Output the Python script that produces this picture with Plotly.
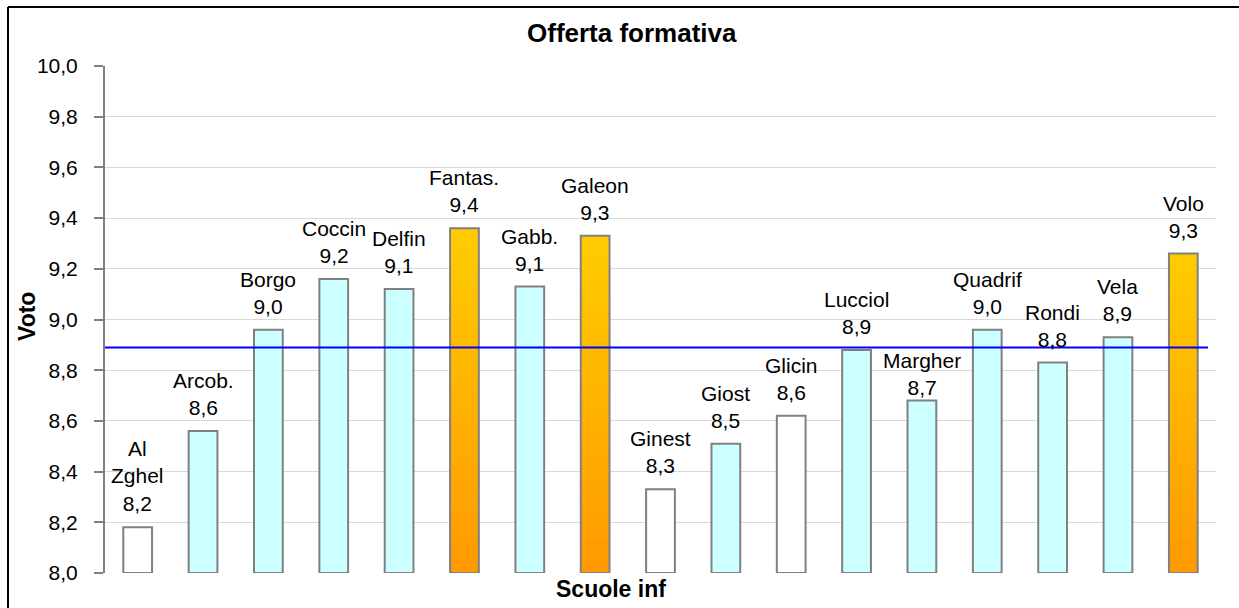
import plotly.graph_objects as go

# ---------------- data ----------------
schools = ["Al Zghel", "Arcob.", "Borgo", "Coccin", "Delfin", "Fantas.", "Gabb.",
           "Galeon", "Ginest", "Giost", "Glicin", "Lucciol", "Margher", "Quadrif",
           "Rondi", "Vela", "Volo"]
scores = [8.18, 8.56, 8.96, 9.16, 9.12, 9.36, 9.13, 9.33, 8.33, 8.51, 8.62,
          8.88, 8.68, 8.96, 8.83, 8.93, 9.26]
groups = ["low", "mid", "mid", "mid", "mid", "top", "mid", "top", "low", "mid",
          "low", "mid", "mid", "mid", "mid", "mid", "top"]
avg_score = 8.89
y_tickvals = [8.0, 8.2, 8.4, 8.6, 8.8, 9.0, 9.2, 9.4, 9.6, 9.8, 10.0]
chart_title = "Offerta formativa"
x_title = "Scuole inf"
y_title = "Voto"

# ---------------- style ----------------
FONT = "Liberation Sans, Arial, sans-serif"
W, H = 1239, 608
L, R, T, B = 105, 23, 66, 35
PW, PH = W - L - R, H - T - B
Y0, Y1 = 8.0, 10.0
fill_map = {"low": "#FFFFFF", "mid": "#CCFFFF", "top": "rgba(0,0,0,0)"}
outline = "#808080"
grad_bottom = (0xFF, 0x99, 0x00)
grad_top = (0xFF, 0xCC, 0x00)
label_nudge = {"Margher": -10}


def px_x(px):
    return (px - L) / PW


def px_y(py):
    return (H - B - py) / PH


fig = go.Figure()

# gradient fill for the highlighted bars (stacked overlapping segments)
top_x = [s for s, g in zip(schools, groups) if g == "top"]
top_v = [v for v, g in zip(scores, groups) if g == "top"]
N = 40
for k in range(N):
    f = (k + 0.5) / N
    c = tuple(round(a + (b - a) * f) for a, b in zip(grad_bottom, grad_top))
    fig.add_trace(go.Bar(
        x=top_x,
        base=[Y0 + (v - Y0) * k / N for v in top_v],
        y=[(v - Y0) * (1 - k / N) for v in top_v],
        marker=dict(color="rgb(%d,%d,%d)" % c, line=dict(width=0)),
        hoverinfo="skip", showlegend=False,
    ))

# main bars with outlines
fig.add_trace(go.Bar(
    x=schools,
    base=[Y0] * len(scores),
    y=[v - Y0 for v in scores],
    marker=dict(color=[fill_map[g] for g in groups],
                line=dict(color=outline, width=2)),
    hoverinfo="skip", showlegend=False,
))

# data labels
for s, v in zip(schools, scores):
    txt = s.replace(" ", "<br>") + "<br>" + ("%.1f" % v).replace(".", ",")
    fig.add_annotation(x=s, y=v, xref="x", yref="y", text=txt, showarrow=False,
                       yanchor="bottom", xanchor="center",
                       yshift=10 + label_nudge.get(s, 0),
                       font=dict(family=FONT, size=21, color="#000000"))

# average line
fig.add_shape(type="line", xref="paper", yref="y", x0=0, x1=px_x(1208),
              y0=avg_score, y1=avg_score, line=dict(color="#0000FF", width=2))

# outer chart border (top and left)
fig.add_shape(type="line", xref="paper", yref="paper", x0=px_x(8), x1=px_x(1245),
              y0=px_y(7), y1=px_y(7), line=dict(color="#000000", width=2))
fig.add_shape(type="line", xref="paper", yref="paper", x0=px_x(8), x1=px_x(8),
              y0=px_y(7), y1=px_y(615), line=dict(color="#000000", width=2))

# titles
fig.add_annotation(text="<b>" + chart_title + "</b>", xref="paper", yref="paper",
                   x=px_x(632), y=px_y(33), showarrow=False, xanchor="center",
                   yanchor="middle", font=dict(family=FONT, size=26, color="#000"))
fig.add_annotation(text="<b>" + x_title + "</b>", xref="paper", yref="paper",
                   x=px_x(611), y=px_y(589), showarrow=False, xanchor="center",
                   yanchor="middle", font=dict(family=FONT, size=23, color="#000"))
fig.add_annotation(text="<b>" + y_title + "</b>", xref="paper", yref="paper",
                   x=px_x(27), y=px_y(317), showarrow=False, xanchor="center",
                   yanchor="middle", textangle=-90,
                   font=dict(family=FONT, size=23, color="#000"))

fig.update_layout(
    width=W, height=H,
    margin=dict(l=L, r=R, t=T, b=B, pad=0),
    paper_bgcolor="#FFFFFF", plot_bgcolor="#FFFFFF",
    barmode="overlay", bargap=0.56,
    separators=",.",
    showlegend=False,
    font=dict(family=FONT, size=21, color="#000000"),
)
fig.update_xaxes(type="category", categoryarray=schools, showticklabels=False,
                 showgrid=False, zeroline=False, showline=False, ticks="",
                 range=[-0.5, len(schools) - 0.5])
fig.update_yaxes(range=[Y0, Y1], tickvals=y_tickvals, tickformat=".1f",
                 showgrid=True, gridcolor="#D9D9D9", gridwidth=1,
                 zeroline=False, showline=True, linecolor="#808080", linewidth=2,
                 ticks="outside", ticklen=9, tickcolor="#808080", tickwidth=1.5,
                 ticklabelstandoff=12,
                 tickfont=dict(family=FONT, size=21, color="#000000"))

fig.write_html("out.html", config={"displayModeBar": False},
               post_script="document.body.style.margin='0';"
                           "document.body.style.overflow='hidden';")
